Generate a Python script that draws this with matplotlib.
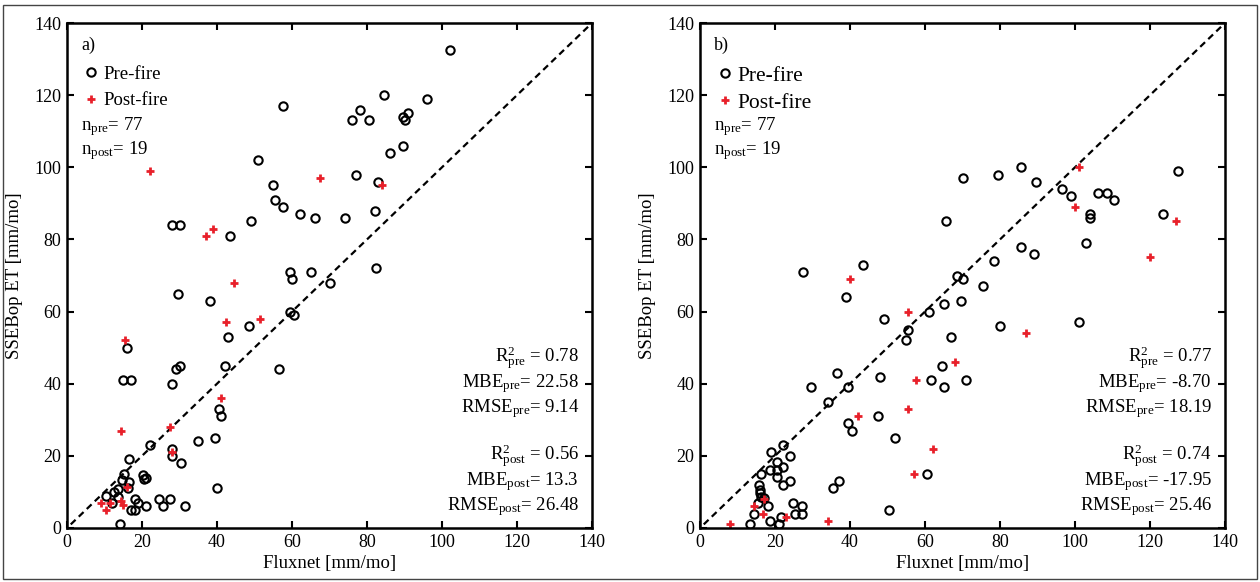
import numpy as np
import matplotlib.pyplot as plt
from matplotlib.patches import Rectangle

plt.rcParams['font.family'] = ['Liberation Serif', 'DejaVu Serif']
plt.rcParams['mathtext.fontset'] = 'custom'
plt.rcParams['mathtext.rm'] = 'Liberation Serif'
plt.rcParams['mathtext.it'] = 'Liberation Serif:italic'
plt.rcParams['mathtext.bf'] = 'Liberation Serif:bold'

# panel a) pre-fire / post-fire  (Fluxnet, SSEBop) in mm/mo
a_pre_x = [102, 84.5, 96, 57.5, 78, 76, 80.5, 89.7, 90, 91, 89.5, 86, 51, 77, 83,
           55, 55.5, 57.5, 62, 66, 74, 82, 49, 28, 30, 43.5, 82.5, 59.5, 60, 65,
           70, 29.5, 38, 59.5, 60.5, 48.5, 43, 16, 42, 56.5, 30, 29, 28, 15, 17,
           40.5, 41, 39.5, 35, 22, 28, 28, 30.5, 16.5, 40, 31.5, 27.5, 24.5, 25.5,
           20.3, 21, 20.4, 18, 19, 21, 17, 18, 14, 15.3, 14.7, 16.6, 16.3, 12.4,
           13.7, 10.4, 13.6, 12]
a_pre_y = [132.5, 120, 119, 117, 116, 113, 113, 114, 113, 115, 106, 104, 102, 98, 96,
           95, 91, 89, 87, 86, 86, 88, 85, 84, 84, 81, 72, 71, 69, 71,
           68, 65, 63, 60, 59, 56, 53, 50, 45, 44, 45, 44, 40, 41, 41,
           33, 31, 25, 24, 23, 22, 20, 18, 19, 11, 6, 8, 8, 6,
           14.7, 14, 13.5, 8, 7, 6, 5, 5, 1, 15, 13.3, 12.8, 11, 10,
           10.8, 9, 8.7, 7]
a_post_x = [22, 67.5, 84, 37, 39, 44.5, 51.5, 42.5, 15.5, 41, 14.5, 27.5, 28, 16,
            9, 10.5, 11.5, 15, 14.5]
a_post_y = [99, 97, 95, 81, 83, 68, 58, 57, 52, 36, 27, 28, 21, 11.5,
            7, 5, 7, 6.5, 7.5]

# panel b)
b_pre_x = [127.5, 85.5, 79.5, 70, 89.5, 96.5, 99, 106, 108.5, 110.5, 104, 104, 123.5,
           65.5, 103, 85.5, 89, 78.5, 27.5, 43.5, 68.5, 70, 75.5, 39, 65, 69.5, 61,
           49, 80, 101, 55.5, 55, 67, 64.5, 36.5, 48, 61.5, 71, 65, 29.5, 39.5, 34,
           47.5, 39.5, 40.5, 52, 60.5, 50.5, 35.5, 37, 22, 19, 24, 20.6, 22, 18.7,
           20.5, 16.3, 20.6, 24, 22, 15.6, 16, 16.3, 17, 18, 14.5, 18.7, 21.5, 21,
           13.3, 24.7, 27.3, 27.3, 25.3, 16, 15.5]
b_pre_y = [99, 100, 98, 97, 96, 94, 92, 93, 93, 91, 87, 86, 87,
           85, 79, 78, 76, 74, 71, 73, 70, 69, 67, 64, 62, 63, 60,
           58, 56, 57, 55, 52, 53, 45, 43, 42, 41, 41, 39, 39, 39, 35,
           31, 29, 27, 25, 15, 5, 11, 13, 23, 21, 20, 18.4, 17, 16,
           16, 15, 14.2, 13, 12, 12, 9.6, 8.7, 8.2, 6, 4, 2, 3, 1,
           1, 7, 6, 4, 4, 10.5, 7]
b_post_x = [101, 100, 127, 120, 40, 55.5, 87, 68, 57.5, 42, 55.5, 62, 57, 8, 34,
            23, 16.7, 14.5, 17]
b_post_y = [100, 89, 85, 75, 69, 60, 54, 46, 41, 31, 33, 22, 15, 1, 2,
            3, 4, 6, 8]

n_pre, n_post = 77, 19
stat_names = ['R', 'MBE', 'RMSE']
a_stats = [['0.78', '22.58', '9.14'], ['0.56', '13.3', '26.48']]
b_stats = [['0.77', '-8.70', '18.19'], ['0.74', '-17.95', '25.46']]

ticks = np.arange(0, 141, 20)

fig = plt.figure(figsize=(12.6, 5.82), dpi=100)
fig.patches.append(Rectangle((3 / 1260, 3 / 582), 1254 / 1260, 574 / 582,
                             transform=fig.transFigure, fill=False,
                             edgecolor='#444444', linewidth=1.0))

ax_a = fig.add_axes([67 / 1260, 54 / 582, 525 / 1260, 505 / 582])
ax_b = fig.add_axes([700 / 1260, 54 / 582, 525 / 1260, 505 / 582])


def stat_label(name, group, val):
    if name == 'R':
        return r'$\mathrm{R}^{2}_{\mathrm{%s}}$ = %s' % (group, val)
    return r'$\mathrm{%s}_{\mathrm{%s}}$= %s' % (name, group, val)


def draw(ax, tag, pre_x, pre_y, post_x, post_y, stats, leg_size, leg_pad, leg_sp):
    ax.plot([1, 140], [1, 140], 'k--', lw=1.6, dashes=(3, 2))
    ax.plot(pre_x, pre_y, 'o', mfc='none', mec='k', mew=1.5, ms=6,
            label='Pre-fire', linestyle='none')
    ax.plot(post_x, post_y, '+', color='#e8202a', mew=2.0, ms=6,
            label='Post-fire', linestyle='none')
    ax.set_xlim(0, 140)
    ax.set_ylim(0, 140)
    ax.set_xticks(ticks)
    ax.set_yticks(ticks)
    ax.tick_params(direction='in', length=5, width=1.5, top=True, right=True,
                   labelsize=13, pad=4)
    for s in ax.spines.values():
        s.set_linewidth(1.8)
    ax.set_xlabel('Fluxnet [mm/mo]', fontsize=13.5, labelpad=3)
    ax.set_ylabel('SSEBop ET [mm/mo]', fontsize=13.5, labelpad=8)

    ax.text(3.7, 132.5, tag, fontsize=13, va='baseline')
    ax.legend(loc='upper left', bbox_to_anchor=(0.031, 0.915), frameon=False,
              fontsize=leg_size, handlelength=0.8, handletextpad=leg_pad,
              borderaxespad=0, borderpad=0, labelspacing=leg_sp)
    ax.text(3.7, 110.3, r'$\mathrm{n}_{\mathrm{pre}}$= %d' % n_pre,
            fontsize=13.5, va='baseline')
    ax.text(3.7, 103.5, r'$\mathrm{n}_{\mathrm{post}}$= %d' % n_post,
            fontsize=13.5, va='baseline')

    base = [[46, 39, 32.2], [18.6, 11.9, 5]]
    for g, group in enumerate(['pre', 'post']):
        for i, name in enumerate(stat_names):
            ax.text(136.5, base[g][i], stat_label(name, group, stats[g][i]),
                    fontsize=13.5, ha='right', va='baseline')


draw(ax_a, 'a)', a_pre_x, a_pre_y, a_post_x, a_post_y, a_stats, 13.5, 0.25, 0.48)
draw(ax_b, 'b)', b_pre_x, b_pre_y, b_post_x, b_post_y, b_stats, 15.5, 0.16, 0.3)

fig.savefig('out.png', dpi=100)
